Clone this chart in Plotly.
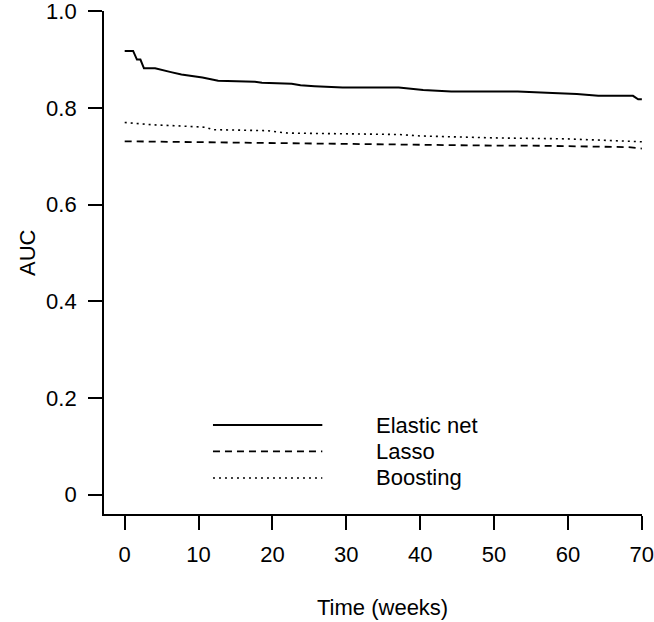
import plotly.graph_objects as go

# Elastic net (solid)
en_time = [0, 1.14, 1.66, 2.13, 2.61, 4.12, 6.26, 7.68, 10.52, 12.65, 17.63, 18.58, 22.6, 23.8,
           25.7, 29.5, 37.1, 40.4, 44.2, 53.2, 57.9, 61.2, 64.1, 68.8, 69.5, 70]
en_auc = [0.918, 0.918, 0.900, 0.900, 0.882, 0.882, 0.874, 0.869, 0.863, 0.856, 0.854, 0.852, 0.850,
          0.847, 0.845, 0.842, 0.842, 0.837, 0.834, 0.834, 0.831, 0.829, 0.825, 0.825, 0.818, 0.818]

# Lasso (dashed)
la_time = [0, 5, 10, 15, 20, 25, 30, 35, 40, 45, 50, 55, 60, 65, 68, 69.5, 70]
la_auc = [0.731, 0.730, 0.729, 0.728, 0.727, 0.726, 0.725, 0.725, 0.724, 0.723, 0.722, 0.722,
          0.721, 0.720, 0.719, 0.717, 0.716]

# Boosting (dotted)
bo_time = [0, 1.6, 3.8, 7.0, 11.0, 11.9, 19.2, 22.0, 30, 37.2, 40, 46.2, 50, 59.8, 65.6, 70]
bo_auc = [0.770, 0.768, 0.765, 0.763, 0.760, 0.755, 0.753, 0.748, 0.746, 0.745, 0.742, 0.739,
          0.738, 0.736, 0.733, 0.730]

series_names = ["Elastic net", "Lasso", "Boosting"]
x_ticks = [0, 10, 20, 30, 40, 50, 60, 70]
y_ticks = [0, 0.2, 0.4, 0.6, 0.8, 1.0]
y_tick_text = ["0", "0.2", "0.4", "0.6", "0.8", "1.0"]

FONT = "Liberation Sans, Arial, sans-serif"
FS = 22
dashes = ["solid", "7px,5px", "2px,4px"]
widths = [2, 1.8, 1.6]

fig = go.Figure()
for (xs, ys), name, d, w in zip([(en_time, en_auc), (la_time, la_auc), (bo_time, bo_auc)],
                                series_names, dashes, widths):
    fig.add_trace(go.Scatter(x=xs, y=ys, mode="lines", name=name,
                             line=dict(color="black", width=w, dash=d), showlegend=False))

# manual R-style legend
leg_y = [0.144, 0.0896, 0.0345]
for name, d, w, ly in zip(series_names, dashes, widths, leg_y):
    fig.add_shape(type="line", xref="x", yref="y", x0=11.95, x1=26.75, y0=ly, y1=ly,
                  line=dict(color="black", width=w, dash=d))
    fig.add_annotation(x=33.8, y=ly, xref="x", yref="y", text=name, showarrow=False,
                       xanchor="left", yanchor="middle", font=dict(family=FONT, size=FS, color="black"))

fig.add_annotation(x=0.518, y=-0.185, xref="paper", yref="paper", text="Time (weeks)",
                   showarrow=False, xanchor="center", yanchor="middle",
                   font=dict(family=FONT, size=FS, color="black"))
fig.add_annotation(x=-0.142, y=0.52, xref="paper", yref="paper", text="AUC", textangle=-90,
                   showarrow=False, xanchor="center", yanchor="middle",
                   font=dict(family=FONT, size=FS, color="black"))

fig.update_layout(
    width=654, height=622,
    margin=dict(l=104.3, r=11.7, t=10.5, b=108.2, pad=0),
    paper_bgcolor="white", plot_bgcolor="white",
    font=dict(family=FONT, size=FS, color="black"),
    xaxis=dict(range=[-2.8, 70.02], tickvals=x_ticks, ticks="outside", ticklen=14, tickwidth=1.8,
               tickcolor="black", showline=True, linecolor="black", linewidth=1.8,
               showgrid=False, zeroline=False, automargin=False, ticklabelstandoff=6,
               ticklabeloverflow="allow",
               tickfont=dict(family=FONT, size=FS, color="black")),
    yaxis=dict(range=[-0.04, 1.0005], tickvals=y_ticks, ticktext=y_tick_text, ticks="outside",
               ticklen=14, tickwidth=1.8, tickcolor="black", showline=True, linecolor="black",
               linewidth=1.8, showgrid=False, zeroline=False, automargin=False,
               ticklabelstandoff=7, ticklabeloverflow="allow",
               tickfont=dict(family=FONT, size=FS, color="black")),
)

fig.write_html("out.html", config={"displayModeBar": False},
               post_script="document.body.style.margin='0';document.body.style.overflow='hidden';")
